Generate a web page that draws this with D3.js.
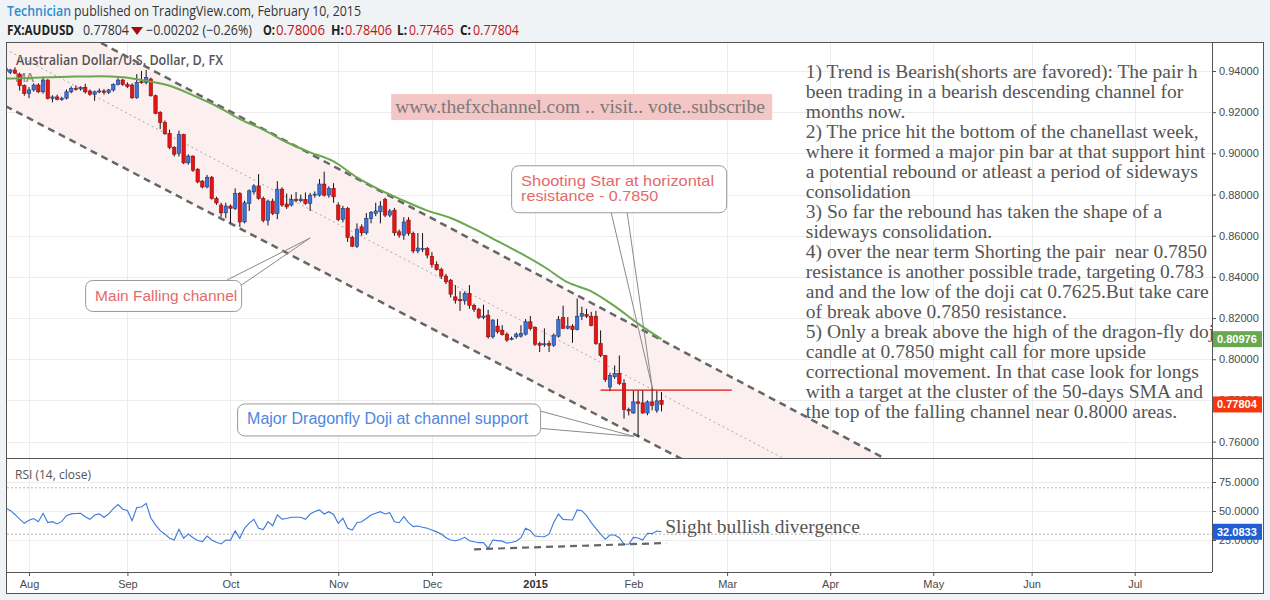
<!DOCTYPE html>
<html><head><meta charset="utf-8">
<script src="https://cdn.jsdelivr.net/npm/d3@7"></script>
<style>
html,body{margin:0;padding:0;background:#f0f3f6;}
svg{display:block;font-family:"Liberation Sans",Arial,sans-serif;}
</style></head><body>
<svg id="c" width="1270" height="600"></svg>
<script>
// ---------------- DATA ----------------
const firstDay = "2014-07-25";
const lastCalendarDay = "2015-07-31";
const holidays = ["2014-12-25", "2015-01-01"];

const opens = [
.9413,.9394,.9405,.9384,.9329,
.9291,.9308,.9332,.9299,.9356,
.9267,.9274,.9262,.9268,.9299,
.9316,.9313,.9321,.9303,.9287,
.9299,.9303,.9296,.9308,.9335,
.9356,.9335,.9332,.9270,.9348,
.9345,.9361,.9280,.9199,.9150,
.9097,.9029,.9000,.9092,.8954,
.8987,.8923,.8865,.8837,.8884,
.8781,.8749,.8711,.8744,.8733,
.8806,.8667,.8757,.8813,.8842,
.8781,.8675,.8768,.8708,.8826,
.8754,.8749,.8776,.8770,.8776,
.8757,.8797,.8797,.8851,.8797,
.8830,.8749,.8679,.8733,.8592,
.8549,.8643,.8614,.8684,.8708,
.8716,.8776,.8700,.8724,.8619,
.8603,.8676,.8611,.8526,.8534,
.8538,.8500,.8460,.8436,.8404,
.8384,.8303,.8290,.8284,.8320,
.8262,.8242,.8203,.8214,.8109,
.8161,.8141,.8122,.8097,.8109,
.8112,.8122,.8182,.8154,.8076,
.8072,.8076,.8068,.8112,.8203,
.8151,.8161,.8144,.8209,.8217,
.8209,.8209,.8076,.8018,.7865,
.7915,.7931,.7882,.7755,.7739,
.7793,.7788,.7739,.7793,.7752,
.78006];
const highs = [
.9425,.9410,.9418,.9392,.9335,
.9322,.9340,.9340,.9372,.9360,
.9282,.9285,.9275,.9310,.9325,
.9330,.9326,.9338,.9310,.9305,
.9315,.9312,.9313,.9340,.9365,
.9362,.9345,.9340,.9385,.9400,
.9405,.9368,.9285,.9205,.9160,
.9115,.9035,.9110,.9095,.8995,
.8990,.8928,.8870,.8895,.8890,
.8790,.8760,.8760,.8752,.8830,
.8812,.8770,.8825,.8850,.8899,
.8790,.8775,.8780,.8865,.8835,
.8805,.8800,.8812,.8800,.8810,
.8808,.8815,.8875,.8911,.8840,
.8855,.8762,.8745,.8740,.8600,
.8660,.8655,.8710,.8720,.8760,
.8768,.8785,.8730,.8735,.8630,
.8690,.8690,.8620,.8613,.8613,
.8545,.8520,.8475,.8445,.8415,
.8390,.8360,.8330,.8330,.8360,
.8270,.8250,.8265,.8240,.8195,
.8195,.8165,.8130,.8110,.8130,
.8165,.8195,.8210,.8160,.8085,
.8150,.8090,.8125,.8210,.8260,
.8205,.8170,.8295,.8255,.8245,
.8230,.8235,.8140,.8020,.7935,
.7970,.8018,.7903,.7765,.7848,
.7849,.7850,.7800,.7864,.7845,
.78406];
const lows = [
.9392,.9385,.9385,.9305,.9280,
.9268,.9300,.9292,.9290,.9262,
.9248,.9258,.9255,.9262,.9292,
.9305,.9305,.9290,.9280,.9255,
.9292,.9285,.9288,.9300,.9330,
.9328,.9318,.9265,.9265,.9338,
.9335,.9275,.9190,.9118,.9090,
.9020,.8985,.8985,.8948,.8945,
.8910,.8855,.8830,.8830,.8775,
.8750,.8692,.8685,.8660,.8725,
.8643,.8660,.8720,.8800,.8775,
.8665,.8650,.8700,.8680,.8740,
.8730,.8742,.8762,.8762,.8750,
.8720,.8785,.8790,.8790,.8785,
.8760,.8670,.8665,.8570,.8545,
.8540,.8600,.8605,.8660,.8695,
.8660,.8690,.8690,.8600,.8590,
.8580,.8600,.8515,.8515,.8520,
.8490,.8445,.8430,.8390,.8365,
.8300,.8270,.8235,.8265,.8245,
.8230,.8195,.8195,.8100,.8100,
.8125,.8115,.8085,.8092,.8100,
.8105,.8115,.8140,.8065,.8035,
.8060,.8035,.8060,.8105,.8165,
.8145,.8080,.8140,.8190,.8200,
.8160,.8070,.8010,.7890,.7845,
.7905,.7875,.7712,.7727,.7735,
.7625,.7735,.7728,.7752,.7740,
.77465];
const closes = [
.9397,.9405,.9390,.9329,.9291,
.9308,.9332,.9299,.9356,.9267,
.9274,.9262,.9268,.9299,.9316,
.9313,.9321,.9299,.9287,.9299,
.9303,.9296,.9308,.9335,.9356,
.9335,.9324,.9270,.9345,.9345,
.9369,.9280,.9194,.9150,.9095,
.9029,.8996,.9092,.8954,.8987,
.8918,.8861,.8837,.8884,.8781,
.8759,.8711,.8744,.8733,.8806,
.8667,.8760,.8818,.8842,.8781,
.8675,.8768,.8708,.8826,.8749,
.8740,.8776,.8772,.8778,.8757,
.8797,.8802,.8851,.8797,.8830,
.8789,.8679,.8733,.8592,.8549,
.8632,.8614,.8684,.8713,.8720,
.8744,.8700,.8720,.8614,.8603,
.8667,.8611,.8526,.8540,.8538,
.8506,.8460,.8436,.8404,.8376,
.8316,.8287,.8284,.8320,.8262,
.8242,.8203,.8210,.8109,.8190,
.8133,.8120,.8093,.8101,.8122,
.8126,.8182,.8149,.8073,.8068,
.8075,.8068,.8117,.8193,.8149,
.8161,.8144,.8209,.8222,.8209,
.8164,.8076,.8018,.7901,.7922,
.7931,.7882,.7755,.7749,.7793,
.7786,.7739,.7793,.7776,.7798,
.77804];
const rsiValues = [
52.5,50.5,47,43,39.4,
42,43.5,40.8,48,40,
40.8,38.8,41,46,47.5,
47.8,48,45,42.8,46.5,
47.5,44.6,47.5,52,55.5,
51.5,50.5,41.6,53,53.4,
56.6,44,38,33,30,
26.5,25,34.2,26.5,30.2,
27,24.5,23.6,28.4,25,
23,21.6,25,24.7,32.8,
26.5,35.1,39.5,42.8,35,
34,40.8,37.3,46.6,43,
43.5,44.6,44.6,44.6,42.8,
47.4,49.5,50.9,47.4,49.4,
47,39.4,43.7,35.1,33.6,
39.9,40.8,43.5,46.6,48,
49.4,47.4,48.6,40.8,39.9,
45.1,40,36.5,37.1,36,
35.1,33.6,32,30.2,27,
25,24.4,25.5,27.3,24.4,
23.5,22.7,22.7,17.8,25,
24.5,24,22.2,23,24,
27,35.1,33,28.4,28,
27.8,30,40,47.4,42.8,
42.5,42.2,50.9,50.3,46,
40,35.1,30,25.6,29.3,
29.3,27,21.5,21.3,27.3,
26.8,25,30.8,30.5,32.8,
32.0833];

const maDates = ["2014-07-25","2014-08-01","2014-08-08","2014-08-15","2014-08-22","2014-08-29","2014-09-05","2014-09-12","2014-09-19","2014-09-26","2014-10-03","2014-10-10","2014-10-17","2014-10-24","2014-10-31","2014-11-07","2014-11-14","2014-11-21","2014-11-28","2014-12-05","2014-12-12","2014-12-19","2014-12-29","2015-01-06","2015-01-13","2015-01-20","2015-01-27","2015-02-03","2015-02-10"];
const maValues = [.9363,.9366,.9370,.9373,.9374,.9370,.9352,.9328,.9282,.9230,.9166,.9115,.9054,.9005,.8961,.8883,.8821,.8770,.8722,.8686,.8633,.8574,.8514,.8448,.8373,.8330,.8258,.8173,.80976];

const monthTickDates = ["2014-08-01","2014-09-01","2014-10-01","2014-11-03","2014-12-01","2015-01-02","2015-02-02","2015-03-02","2015-04-01","2015-05-01","2015-06-01","2015-07-01"];
const monthTickLabels = ["Aug","Sep","Oct","Nov","Dec","2015","Feb","Mar","Apr","May","Jun","Jul"];
const priceTicks = [0.94,0.92,0.90,0.88,0.86,0.84,0.82,0.80,0.78,0.76];
const rsiTicks = [75,50,25];
const rsiBands = [70,30];

// channel anchors (date, price)
const upperChannel = [["2014-09-08", .9408], ["2015-02-10", .8093]];
const lowerChannel = [["2014-08-01", .9170], ["2015-02-03", .7626]];
const resistance = {from:"2015-01-22", to:"2015-03-03", price:.7850};
const divergence = [["2014-12-12", 17], ["2015-02-11", 22.4]];
const lastPrice = .77804, lastMA = .80976, lastRSI = 32.0833;

const noteLines = [
"1) Trend is Bearish(shorts are favored): The pair h",
"been trading in a bearish descending channel for",
"months now.",
"2) The price hit the bottom of the chanellast week,",
"where it formed a major pin bar at that support hint",
"a potential rebound or atleast a period of sideways",
"consolidation",
"3) So far the rebound has taken the shape of a",
"sideways consolidation.",
"4) over the near term Shorting the pair\u00a0 near 0.7850",
"resistance is another possible trade, targeting 0.783",
"and and the low of the doji cat 0.7625.But take care",
"of break above 0.7850 resistance.",
"5) Only a break above the high of the dragon-fly doj",
"candle at 0.7850 might call for more upside",
"correctional movement. In that case look for longs",
"with a target at the cluster of the 50-days SMA and",
"the top of the falling channel near 0.8000 areas."];

// ---------------- BUILD ----------------
const svg = d3.select("#c");
const SERIF = "'Liberation Serif','Times New Roman',serif";
const parse = d3.utcParse("%Y-%m-%d"), fmt = d3.utcFormat("%Y-%m-%d");
const days = d3.utcDays(parse(firstDay), d3.utcDay.offset(parse(lastCalendarDay), 1))
  .filter(d => d.getUTCDay() % 6 !== 0 && !holidays.includes(fmt(d))).map(fmt);
const idx = new Map(days.map((d, i) => [d, i]));
const candles = opens.map((o, i) => ({i, o, h: highs[i], l: lows[i], c: closes[i]}));

const L = 7, R = 1212, RR = 1263, T = 43, MID = 458, XB = 572, B = 593;
const x = d3.scaleLinear().domain([0.3, 257.5]).range([L, R]);
const yP = d3.scaleLinear().domain([0.76, 0.94]).range([441.6, 71]);
const yR = d3.scaleLinear().domain([25, 75]).range([540, 482]);

// frame
svg.append("rect").attr("x", L).attr("y", T).attr("width", RR - L).attr("height", B - T).attr("fill", "#fff");
const defs = svg.append("defs");
defs.append("clipPath").attr("id", "cp").append("rect").attr("x", L).attr("y", T).attr("width", R - L).attr("height", MID - T);
defs.append("clipPath").attr("id", "cr").append("rect").attr("x", L).attr("y", MID).attr("width", R - L).attr("height", XB - MID);

// grids
const grid = svg.append("g").attr("stroke", "#ececec").attr("stroke-width", 1);
monthTickDates.forEach(d => {
  const px = Math.round(x(idx.get(d))) + 0.5;
  grid.append("line").attr("x1", px).attr("x2", px).attr("y1", T).attr("y2", XB);
});
priceTicks.forEach(p => {
  const py = Math.round(yP(p)) + 0.5;
  grid.append("line").attr("x1", L).attr("x2", R).attr("y1", py).attr("y2", py);
});
rsiTicks.forEach(v => {
  const py = Math.round(yR(v)) + 0.5;
  grid.append("line").attr("x1", L).attr("x2", R).attr("y1", py).attr("y2", py);
});

// price pane
const gp = svg.append("g").attr("clip-path", "url(#cp)");

function lineFn(a) {
  const i0 = idx.get(a[0][0]), i1 = idx.get(a[1][0]);
  const s = (a[1][1] - a[0][1]) / (i1 - i0);
  return i => a[0][1] + s * (i - i0);
}
const up = lineFn(upperChannel), lo = lineFn(lowerChannel);
const iA = 0, iB = 200;
gp.append("path").attr("fill", "#fcefef")
  .attr("d", `M${x(iA)},${yP(up(iA))}L${x(iB)},${yP(up(iB))}L${x(iB)},${yP(lo(iB))}L${x(iA)},${yP(lo(iA))}Z`);

gp.append("text").attr("x", 16).attr("y", 65).attr("fill", "#555").attr("font-size", 13.5)
  .attr("font-weight", 600).attr("font-family", "'Open Sans',sans-serif")
  .attr("textLength", 207).attr("lengthAdjust", "spacingAndGlyphs")
  .text("Australian Dollar/U.S. Dollar, D, FX");
gp.append("text").attr("x", 15).attr("y", 82).attr("fill", "#888").attr("font-size", 12)
  .attr("font-weight", 600).attr("font-family", "'Open Sans',sans-serif").text("MA");

gp.append("line").attr("x1", x(iA)).attr("y1", yP((up(iA) + lo(iA)) / 2)).attr("x2", x(iB)).attr("y2", yP((up(iB) + lo(iB)) / 2))
  .attr("stroke", "#aaa").attr("stroke-width", 1).attr("stroke-dasharray", "2,3");
[up, lo].forEach(f => {
  gp.append("line").attr("x1", x(iA)).attr("y1", yP(f(iA))).attr("x2", x(iB)).attr("y2", yP(f(iB)))
    .attr("stroke", "#666").attr("stroke-width", 2.5).attr("stroke-dasharray", "7,5");
});

// candles
const bw = 3.4;
const cg = gp.append("g");
cg.selectAll("line.w").data(candles).join("line")
  .attr("x1", d => x(d.i)).attr("x2", d => x(d.i)).attr("y1", d => yP(d.h)).attr("y2", d => yP(d.l))
  .attr("stroke", "#111").attr("stroke-width", 1);
cg.selectAll("rect").data(candles).join("rect")
  .attr("x", d => x(d.i) - bw / 2).attr("width", bw)
  .attr("y", d => yP(Math.max(d.o, d.c))).attr("height", d => Math.max(1, Math.abs(yP(d.o) - yP(d.c))))
  .attr("fill", d => d.c >= d.o ? "#3d74d6" : "#e81414")
  .attr("stroke", d => d.c >= d.o ? "#1d3b78" : "#8a0f0f").attr("stroke-width", 0.6);

// MA
gp.append("path").datum(maDates.map((d, k) => [idx.get(d), maValues[k]]))
  .attr("fill", "none").attr("stroke", "#6aa84f").attr("stroke-width", 2)
  .attr("d", d3.line().x(d => x(d[0])).y(d => yP(d[1])).curve(d3.curveMonotoneX));

// resistance
gp.append("line").attr("x1", x(idx.get(resistance.from))).attr("x2", x(idx.get(resistance.to)))
  .attr("y1", yP(resistance.price)).attr("y2", yP(resistance.price)).attr("stroke", "#e01010").attr("stroke-width", 1.4);

// text note block
const nb = gp.append("text").attr("font-family", SERIF).attr("font-size", 19.5).attr("fill", "#555");
noteLines.forEach((t, k) => nb.append("tspan").attr("x", x(170.8)).attr("y", yP(0.9365) + 20 * k).text(t));

// www box
const wx = x(82.3), wy = yP(0.9288);
gp.append("rect").attr("x", wx).attr("y", wy).attr("width", 381).attr("height", 26).attr("fill", "#f4c6c6");
gp.append("text").attr("x", wx + 4).attr("y", wy + 19).attr("font-family", SERIF)
  .attr("font-size", 19.5).attr("fill", "#7a7a7a").text("www.thefxchannel.com .. visit.. vote..subscribe");

// callouts
function callout(o) {
  const tx = x(idx.get(o.date)) + (o.tdx || 0), ty = yP(o.price);
  const bx = tx + o.dx, by = ty + o.dy;
  const g = gp.append("g");
  o.tail.forEach(t => g.append("line").attr("x1", bx + t[0]).attr("y1", by + t[1]).attr("x2", tx).attr("y2", ty)
    .attr("stroke", "#8a8a8a").attr("stroke-width", 1));
  g.append("rect").attr("x", bx + 0.5).attr("y", by + 0.5).attr("width", o.w).attr("height", o.h).attr("rx", 7)
    .attr("fill", "#fff").attr("stroke", "#9a9a9a").attr("stroke-width", 1);
  o.lines.forEach((t, k) => {
    const e = g.append("text").attr("x", bx + 10).attr("y", by + o.base + k * (o.lh || 14))
      .attr("font-size", o.fs).attr("fill", o.color).text(t);
    if (o.tl) e.attr("textLength", o.tl[k]).attr("lengthAdjust", "spacingAndGlyphs");
  });
}
callout({date: "2015-02-06", price: .7864, dx: -141, dy: -222, w: 215, h: 47, base: 21, lh: 15, fs: 14.5, tl: [193, 137],
  tail: [[100, 47], [116, 47]], color: "#e46a6a", lines: ["Shooting Star at horizontal", "resistance - 0.7850"]});
callout({date: "2015-02-03", price: .7625, tdx: -4, dx: -397, dy: -33, w: 303, h: 32, base: 21, fs: 16,
  tail: [[301, 7], [304, 25]], color: "#4f86e0", lines: ["Major Dragonfly Doji at channel support"]});
callout({date: "2014-10-24", price: .8589, dx: -225, dy: 42, w: 156, h: 31, base: 21, fs: 15.5,
  tail: [[142, 0], [155, 6]], color: "#e46a6a", lines: ["Main Falling channel"]});

// RSI pane
const gr = svg.append("g").attr("clip-path", "url(#cr)");
rsiBands.forEach(v => gr.append("line").attr("x1", L).attr("x2", R).attr("y1", yR(v)).attr("y2", yR(v))
  .attr("stroke", "#b5b5b5").attr("stroke-dasharray", "2,2"));
gr.append("text").attr("x", 15).attr("y", 479).attr("font-size", 12).attr("fill", "#555")
  .attr("font-family", "'Open Sans',sans-serif").text("RSI (14, close)");
gr.append("path").datum(rsiValues.map((v, i) => [i, v])).attr("fill", "none").attr("stroke", "#3b78dc").attr("stroke-width", 1.1)
  .attr("d", d3.line().x(d => x(d[0])).y(d => yR(d[1])));
gr.append("line").attr("x1", x(idx.get(divergence[0][0]))).attr("y1", yR(divergence[0][1]))
  .attr("x2", x(idx.get(divergence[1][0]))).attr("y2", yR(divergence[1][1]))
  .attr("stroke", "#666").attr("stroke-width", 2.2).attr("stroke-dasharray", "7,5");
gr.append("text").attr("x", x(140.8)).attr("y", yR(31)).attr("font-family", SERIF)
  .attr("font-size", 19.5).attr("fill", "#555").text("Slight bullish divergence");

// axes
const pa = svg.append("g").attr("transform", `translate(${R},0)`)
  .call(d3.axisRight(yP).tickValues(priceTicks).tickFormat(d3.format(".5f")).tickSize(4));
const ra = svg.append("g").attr("transform", `translate(${R},0)`)
  .call(d3.axisRight(yR).tickValues(rsiTicks).tickFormat(d3.format(".4f")).tickSize(4));
const xa = svg.append("g").attr("transform", `translate(0,${XB})`)
  .call(d3.axisBottom(x).tickValues(monthTickDates.map(d => idx.get(d))).tickFormat((d, k) => monthTickLabels[k]).tickSize(4));
[pa, ra, xa].forEach(a => {
  a.select(".domain").remove();
  a.selectAll("line").attr("stroke", "#555");
  a.selectAll("text").attr("fill", "#4a4a4a").attr("font-size", 11).attr("font-family", "'Liberation Sans',Arial,sans-serif");
});
pa.selectAll("text").attr("x", 7);
ra.selectAll("text").attr("x", 7);
xa.selectAll("text").attr("y", 8).filter(d => d === idx.get("2015-01-02")).attr("font-weight", "bold").attr("fill", "#333");

// badges
function badge(yv, color, label) {
  svg.append("rect").attr("x", R).attr("y", yv - 8).attr("width", 50).attr("height", 16).attr("fill", color);
  svg.append("text").attr("x", R + 5).attr("y", yv + 4).attr("font-size", 11).attr("font-weight", "bold")
    .attr("fill", "#fff").text(label);
}
badge(yP(lastMA), "#6aa84f", d3.format(".5f")(lastMA));
badge(yP(lastPrice), "#f6360f", d3.format(".5f")(lastPrice));
badge(yR(lastRSI), "#1f5fd3", d3.format(".4f")(lastRSI));

// borders
const bd = svg.append("g").attr("stroke", "#555").attr("stroke-width", 1).attr("fill", "none");
bd.append("rect").attr("x", L - 0.5).attr("y", T - 0.5).attr("width", RR - L + 1).attr("height", B - T + 1);
bd.append("line").attr("x1", L).attr("x2", RR).attr("y1", MID + 0.5).attr("y2", MID + 0.5);
bd.append("line").attr("x1", L).attr("x2", R).attr("y1", XB + 0.5).attr("y2", XB + 0.5);
bd.append("line").attr("x1", R + 0.5).attr("x2", R + 0.5).attr("y1", T).attr("y2", XB);

// header
const hf = "'Open Sans',sans-serif";
function ht(xp, yp, t, opts) {
  const e = svg.append("text").attr("x", xp).attr("y", yp).attr("font-family", hf).attr("font-size", 14)
    .attr("fill", opts.c || "#222").attr("font-weight", opts.b ? "bold" : (opts.w || "normal")).text(t);
  if (opts.tl) e.attr("textLength", opts.tl).attr("lengthAdjust", "spacingAndGlyphs");
}
ht(7, 16, "Technician", {c: "#2a8bd0", w: 600, tl: 64});
ht(74, 16, "published on TradingView.com, February 10, 2015", {c: "#333", tl: 287});
ht(7, 35, "FX:AUDUSD", {b: 1, tl: 67});
ht(83, 35, "0.77804", {c: "#333", tl: 46});
svg.append("path").attr("d", "M131,27L143,27L137,35Z").attr("fill", "#a10c0c");
ht(146, 35, "\u22120.00202 (\u22120.26%)", {c: "#333", tl: 106});
ht(263, 35, "O:", {b: 1, tl: 12}); ht(276, 35, "0.78006", {c: "#c41313", tl: 49});
ht(331, 35, "H:", {b: 1, tl: 13}); ht(345, 35, "0.78406", {c: "#c41313", tl: 47});
ht(397, 35, "L:", {b: 1, tl: 10}); ht(409, 35, "0.77465", {c: "#c41313", tl: 45});
ht(460, 35, "C:", {b: 1, tl: 11}); ht(473, 35, "0.77804", {c: "#c41313", tl: 46});
</script>
</body></html>
